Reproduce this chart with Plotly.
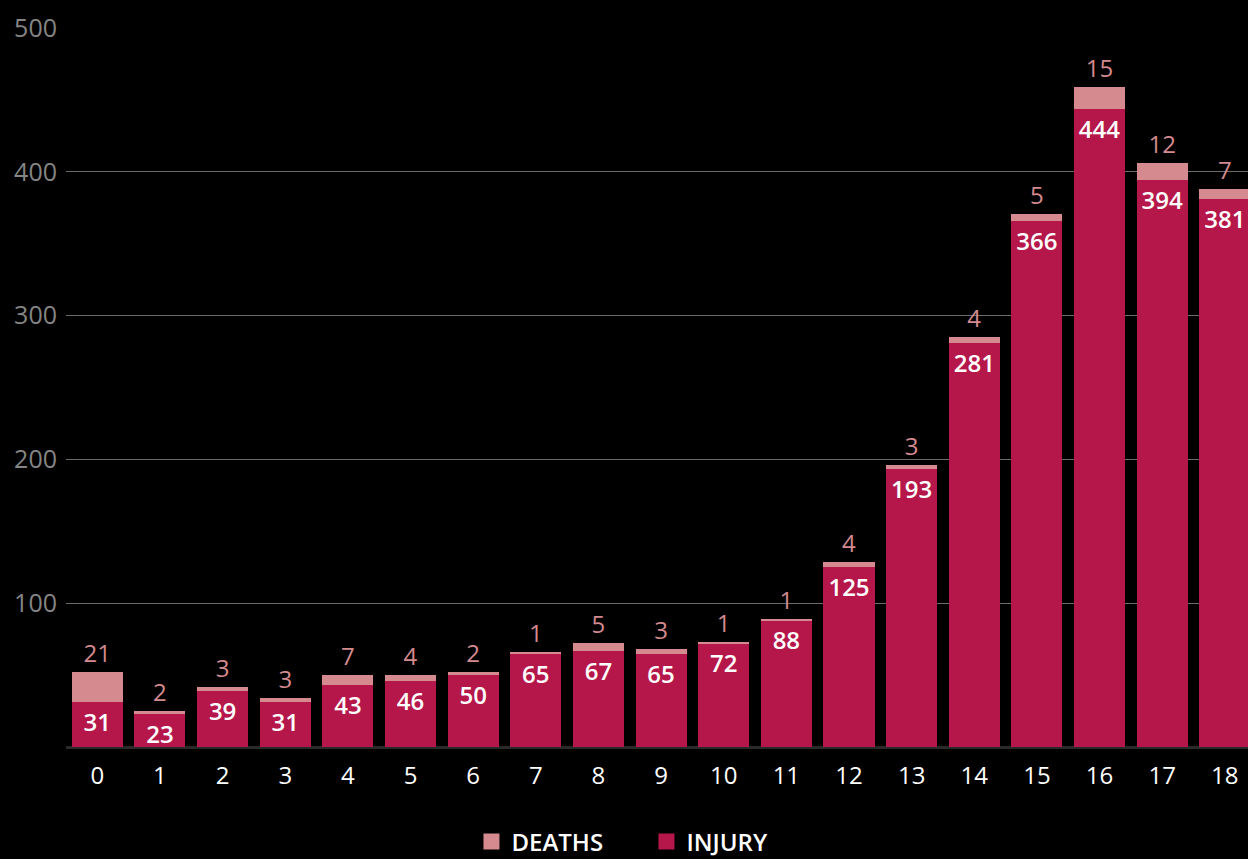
import plotly.graph_objects as go

categories = [str(i) for i in range(19)]
injury = [31, 23, 39, 31, 43, 46, 50, 65, 67, 65, 72, 88, 125, 193, 281, 366, 444, 394, 381]
deaths = [21, 2, 3, 3, 7, 4, 2, 1, 5, 3, 1, 1, 4, 3, 4, 5, 15, 12, 7]
legend_names = ["DEATHS", "INJURY"]

INJ = "#B5174A"
DEA = "#D48A8E"
FONT = "Open Sans, Noto Sans, sans-serif"

fig = go.Figure()
fig.add_trace(go.Bar(
    x=categories, y=injury, name="INJURY", marker=dict(color=INJ, line=dict(width=0)),
    text=[str(v) for v in injury], textposition="inside", insidetextanchor="end",
    textangle=0, constraintext="none", showlegend=False,
    textfont=dict(color="white", size=24, family=FONT, weight=600),
))
fig.add_trace(go.Bar(
    x=categories, y=deaths, name="DEATHS", marker=dict(color=DEA, line=dict(width=0)),
    text=[str(v) for v in deaths], textposition="outside", textangle=0, constraintext="none",
    showlegend=False,
    textfont=dict(color=DEA, size=24, family=FONT),
))
# legend markers (square swatches)
for name, col in zip(legend_names, [DEA, INJ]):
    fig.add_trace(go.Scatter(
        x=[None], y=[None], mode="markers", name=name,
        marker=dict(symbol="square", size=20, color=col, line=dict(width=0)),
        showlegend=True,
    ))

fig.update_layout(
    width=1248, height=859,
    barmode="stack", bargap=0.185,
    paper_bgcolor="black", plot_bgcolor="black",
    margin=dict(l=66, r=0, t=28, b=112, autoexpand=False),
    font=dict(family=FONT, color="white"),
    showlegend=True,
    legend=dict(orientation="h", x=0.518, xanchor="center", xref="container",
                y=0.02, yanchor="middle", yref="container",
                traceorder="normal", itemsizing="trace",
                entrywidth=130, entrywidthmode="pixels",
                font=dict(size=24, color="white", family=FONT, weight=600),
                itemwidth=30),
    xaxis=dict(type="category", range=[-0.5, 18.37], showgrid=False, showline=False,
               zeroline=False, ticks="", automargin=False, ticklabelstandoff=12,
               tickfont=dict(size=24, color="white", family=FONT)),
    yaxis=dict(range=[0, 500], tickvals=[100, 200, 300, 400, 500], showgrid=True,
               gridcolor="#6b6b6b", gridwidth=1, zeroline=True, zerolinecolor="#2a2a2a",
               zerolinewidth=3, showline=False, ticks="", ticklabelstandoff=8,
               automargin=False,
               tickfont=dict(size=25, color="#858585", family=FONT)),
)
fig.update_traces(cliponaxis=False, selector=dict(type="bar"))

fig.write_html("out.html")
